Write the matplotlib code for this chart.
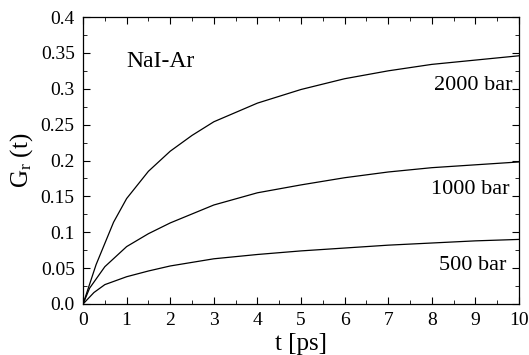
import matplotlib
matplotlib.use("Agg")
import matplotlib.pyplot as plt
from matplotlib.ticker import MultipleLocator, FuncFormatter

# values
t_2000 = [0, 0.3, 0.7, 1.0, 1.5, 2.0, 2.5, 3.0, 4.0, 5.0, 6.0, 7.0, 8.0, 9.0, 10.0]
g_2000 = [0, 0.055, 0.114, 0.147, 0.185, 0.213, 0.235, 0.254, 0.280, 0.299, 0.314, 0.325, 0.334, 0.340, 0.346]

t_1000 = [0, 0.15, 0.5, 1.0, 1.5, 2.0, 3.0, 4.0, 5.0, 6.0, 7.0, 8.0, 9.0, 10.0]
g_1000 = [0, 0.022, 0.052, 0.080, 0.098, 0.113, 0.138, 0.155, 0.166, 0.176, 0.184, 0.190, 0.194, 0.198]

t_500 = [0, 0.25, 0.5, 1.0, 1.5, 2.0, 3.0, 4.0, 5.0, 6.0, 7.0, 8.0, 9.0, 10.0]
g_500 = [0, 0.016, 0.027, 0.038, 0.046, 0.053, 0.063, 0.069, 0.074, 0.078, 0.082, 0.085, 0.088, 0.090]

curve_labels = ["2000 bar", "1000 bar", "500 bar"]

plt.rcParams['font.family'] = ['Liberation Serif', 'DejaVu Serif']
plt.rcParams['mathtext.fontset'] = 'stix'

fig = plt.figure(figsize=(5.29, 3.55), dpi=100)
ax = fig.add_axes([0.157, 0.1437, 0.824, 0.8083])

for t, g in [(t_2000, g_2000), (t_1000, g_1000), (t_500, g_500)]:
    ax.plot(t, g, color='black', linewidth=0.9)

# curve labels, right aligned near the right edge
ax.text(9.85, 0.298, curve_labels[0], ha='right', va='baseline', fontsize=16)
ax.text(9.78, 0.154, curve_labels[1], ha='right', va='baseline', fontsize=16)
ax.text(9.72, 0.048, curve_labels[2], ha='right', va='baseline', fontsize=16)
ax.text(1.0, 0.331, "NaI-Ar", ha='left', va='baseline', fontsize=17)

ax.set_xlim(0, 10)
ax.set_ylim(0, 0.4)
ax.xaxis.set_major_locator(MultipleLocator(1))
ax.xaxis.set_minor_locator(MultipleLocator(0.5))
ax.yaxis.set_major_locator(MultipleLocator(0.05))
ax.yaxis.set_minor_locator(MultipleLocator(0.025))


def yfmt(v, pos):
    if abs(v) < 1e-9:
        return "0.0"
    return f"{v:.2f}".rstrip('0')


ax.yaxis.set_major_formatter(FuncFormatter(yfmt))

ax.tick_params(which='both', direction='in', top=True, right=True, labelsize=14, pad=6)
ax.tick_params(which='major', length=5, width=0.8)
ax.tick_params(which='minor', length=3, width=0.6)
for s in ax.spines.values():
    s.set_linewidth(0.9)

ax.set_xlabel("t [ps]", fontsize=18, labelpad=3)
ax.set_ylabel(r"$\mathregular{G_r}$ (t)", fontsize=18, labelpad=4)

fig.savefig("out.png", dpi=100)
